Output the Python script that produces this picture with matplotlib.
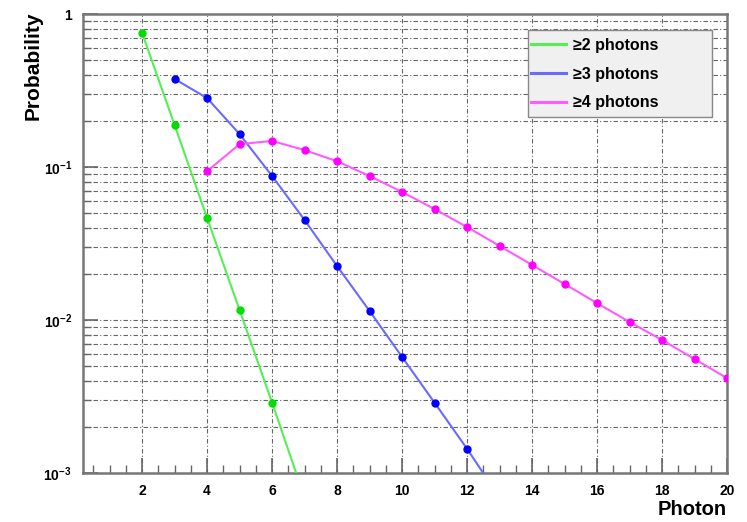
import matplotlib
matplotlib.use("Agg")
import matplotlib.pyplot as plt
from matplotlib.patches import Rectangle
from matplotlib.ticker import FixedLocator, FixedFormatter, MultipleLocator

plt.rcParams['font.family'] = ['Liberation Sans', 'DejaVu Sans']
plt.rcParams['font.weight'] = 'bold'
plt.rcParams['mathtext.fontset'] = 'custom'
plt.rcParams['mathtext.rm'] = 'Liberation Sans:bold'
plt.rcParams['mathtext.bf'] = 'Liberation Sans:bold'
plt.rcParams['mathtext.default'] = 'bf'

# ---- data ----
x_ge2 = [2, 3, 4, 5, 6, 7]
p_ge2 = [0.75, 0.188, 0.0464, 0.0116, 0.00288, 0.00069]

x_ge3 = [3, 4, 5, 6, 7, 8, 9, 10, 11, 12, 13]
p_ge3 = [0.376, 0.282, 0.164, 0.0873, 0.045, 0.0225, 0.01145, 0.00573,
         0.00288, 0.00144, 0.00069]

x_ge4 = [4, 5, 6, 7, 8, 9, 10, 11, 12, 13, 14, 15, 16, 17, 18, 19, 20]
p_ge4 = [0.094, 0.141, 0.148, 0.129, 0.109, 0.0873, 0.0687, 0.0531, 0.0405,
         0.0305, 0.0229, 0.0172, 0.0129, 0.0097, 0.0074, 0.00556, 0.00417]

labels = ["\u22652 photons", "\u22653 photons", "\u22654 photons"]
line_cols = ["#55ee55", "#6a6aff", "#ff5cff"]
mark_cols = ["#00dd00", "#0000ff", "#ff00ff"]

W, H = 747, 522
fig = plt.figure(figsize=(W / 100, H / 100), dpi=100)
ax = fig.add_axes([83 / W, 1 - 473 / H, (727 - 83) / W, (473 - 14) / H])

for xs, ps, lab, lc, mc in zip([x_ge2, x_ge3, x_ge4], [p_ge2, p_ge3, p_ge4],
                               labels, line_cols, mark_cols):
    ax.plot(xs, ps, color=lc, lw=1.5, label=lab, zorder=3)
    ax.plot(xs, ps, 'o', color=mc, ms=5, mec=mc, zorder=4)

ax.set_yscale('log')
ax.set_xlim(0.18, 20)
ax.set_ylim(1e-3, 1)

# grid: vertical at majors, horizontal at every log position
grid_kw = dict(color='#666666', lw=0.8, ls=(0, (4, 2, 1, 2)), zorder=1)
for gx in range(2, 20, 2):
    ax.axvline(gx, **grid_kw)
for dec in [1e-3, 1e-2, 1e-1]:
    for m in range(1, 10):
        v = dec * m
        if v > 1e-3:
            ax.axhline(v, **grid_kw)

ax.xaxis.set_major_locator(FixedLocator(list(range(2, 21, 2))))
ax.xaxis.set_minor_locator(MultipleLocator(0.5))
ax.yaxis.set_major_locator(FixedLocator([1e-3, 1e-2, 1e-1, 1]))
ax.yaxis.set_major_formatter(FixedFormatter([r"$10^{-3}$", r"$10^{-2}$", r"$10^{-1}$", "1"]))
minors = [d * m for d in [1e-3, 1e-2, 1e-1] for m in range(2, 10)]
ax.yaxis.set_minor_locator(FixedLocator(minors))
ax.yaxis.set_minor_formatter(FixedFormatter([""] * len(minors)))

ax.tick_params(which='both', direction='in', color='#666666', top=False, right=False)
ax.tick_params(which='major', length=11, width=1.2, labelsize=10, pad=8)
ax.tick_params(which='minor', length=6, width=1.0)

for s in ax.spines.values():
    s.set_color('#777777')
    s.set_linewidth(1.8)

fig.text(33 / W, 1 - 12 / H, "Probability", rotation=90, ha='center', va='top',
         fontsize=15, fontweight='bold')
fig.text(727 / W, 1 - 519 / H, "Photon", ha='right', va='bottom',
         fontsize=14.5, fontweight='bold')

# legend box drawn by hand, entries placed inside it
box = Rectangle((528 / W, 1 - 117 / H), (712 - 528) / W, (117 - 30) / H,
                transform=fig.transFigure, facecolor='#f0f0f0',
                edgecolor='#888888', lw=1.0, zorder=9, clip_on=False)
ax.add_patch(box)
leg = ax.legend(loc='upper left', bbox_to_anchor=(531 / W, 1 - 38 / H),
                bbox_transform=fig.transFigure, fontsize=11.5, frameon=False,
                handlelength=2.2, borderpad=0, labelspacing=0.85,
                handletextpad=0.4, borderaxespad=0)
for h in leg.legend_handles:
    h.set_linewidth(2.2)
leg.set_zorder(10)

fig.savefig("out.png", dpi=100)
